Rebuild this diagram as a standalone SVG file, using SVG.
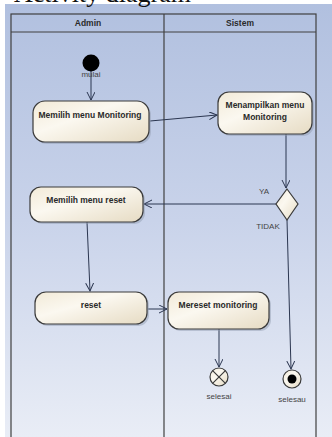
<svg xmlns="http://www.w3.org/2000/svg" width="332" height="437" viewBox="0 0 332 437">
<defs>
<linearGradient id="bg" x1="0" y1="0" x2="0" y2="1">
<stop offset="0" stop-color="#b1c0df"/>
<stop offset="0.5" stop-color="#c9d3ea"/>
<stop offset="1" stop-color="#e9edf6"/>
</linearGradient>
<linearGradient id="nf" x1="0" y1="0" x2="1" y2="1">
<stop offset="0" stop-color="#f2ead8"/>
<stop offset="0.4" stop-color="#fbf8f0"/>
<stop offset="1" stop-color="#e6dbc3"/>
</linearGradient>
<marker id="arr" markerWidth="10" markerHeight="10" refX="8" refY="4" orient="auto" markerUnits="userSpaceOnUse">
<path d="M0,0 L8,4 L0,8" fill="none" stroke="#2b3650" stroke-width="1"/>
</marker>
</defs>
<style>
.node rect{fill:url(#nf);stroke:#3a3a3a;stroke-width:1.2}
.node rect.shadow{fill:#8f98ad;stroke:none;opacity:0.45}
.lbl{font-family:"Liberation Sans",Arial,sans-serif;font-size:8.5px;font-weight:bold;fill:#2a2a2a;text-anchor:middle}
.small{font-family:"Liberation Sans",Arial,sans-serif;font-size:8px;fill:#444;text-anchor:middle}
.pool{fill:none;stroke:#404040;stroke-width:1.2}
.conn path,.conn line{fill:none;stroke:#2b3650;stroke-width:1;marker-end:url(#arr)}
</style>
<rect x="0" y="0" width="332" height="437" fill="#ffffff"/>
<rect x="5" y="4" width="327" height="433" fill="url(#bg)"/>
<text x="14" y="1.5" font-family="Liberation Serif,serif" font-size="26" fill="#111">Activity diagram</text>
<g id="pool">
<rect x="11" y="14" width="305" height="430" class="pool"/>
<line x1="11" y1="32" x2="316" y2="32" class="pool"/>
<line x1="164" y1="14" x2="164" y2="437" class="pool"/>
<text x="88" y="26" class="lbl">Admin</text>
<text x="240" y="26" class="lbl">Sistem</text>
</g>
<g id="connectors" class="conn">
<line x1="91" y1="71" x2="91" y2="100"/>
<path d="M150,121 L217,115"/>
<line x1="286" y1="134" x2="286" y2="188"/>
<line x1="276" y1="204" x2="144" y2="204"/>
<line x1="87" y1="222" x2="90" y2="291"/>
<line x1="148" y1="309" x2="167" y2="309"/>
<line x1="219" y1="329" x2="219" y2="367"/>
<line x1="287" y1="220" x2="291" y2="369"/>
</g>
<g id="start">
<circle cx="91" cy="63" r="8.5" fill="#000"/>
<text x="91" y="77" class="small">mulai</text>
</g>
<g id="n1" class="node">
<rect x="35" y="103" width="116" height="41" rx="12" class="shadow"/>
<rect x="33" y="101" width="116" height="41" rx="12"/>
<text x="90" y="118" class="lbl">Memilih menu Monitoring</text>
</g>
<g id="n2" class="node">
<rect x="220" y="94" width="94" height="42" rx="11" class="shadow"/>
<rect x="218" y="92" width="94" height="42" rx="11"/>
<text x="265" y="108" class="lbl">Menampilkan menu</text>
<text x="265" y="120" class="lbl">Monitoring</text>
</g>
<g id="decision">
<polygon points="287,189 298,204 287,220 276,204" fill="url(#nf)" stroke="#3a3a3a" stroke-width="1.2"/>
<text x="264" y="194" class="small">YA</text>
<text x="268" y="229" class="small">TIDAK</text>
</g>
<g id="n3" class="node">
<rect x="32" y="189" width="113" height="35" rx="11" class="shadow"/>
<rect x="30" y="187" width="113" height="35" rx="11"/>
<text x="86" y="203" class="lbl">Memilih menu reset</text>
</g>
<g id="n4" class="node">
<rect x="37" y="294" width="112" height="32" rx="11" class="shadow"/>
<rect x="35" y="292" width="112" height="32" rx="11"/>
<text x="91" y="308" class="lbl">reset</text>
</g>
<g id="n5" class="node">
<rect x="170" y="294" width="101" height="37" rx="11" class="shadow"/>
<rect x="168" y="292" width="101" height="37" rx="11"/>
<text x="218" y="308" class="lbl">Mereset monitoring</text>
</g>
<g id="flowfinal">
<circle cx="219" cy="377" r="9" fill="url(#nf)" stroke="#3a3a3a" stroke-width="1.2"/>
<path d="M212.6,370.6 L225.4,383.4 M225.4,370.6 L212.6,383.4" stroke="#3a3a3a" stroke-width="1.2"/>
<text x="219" y="399" class="small">selesai</text>
</g>
<g id="final">
<circle cx="292" cy="379" r="9" fill="url(#nf)" stroke="#3a3a3a" stroke-width="1.2"/>
<circle cx="292" cy="379" r="4.5" fill="#000"/>
<text x="292" y="402" class="small">selesau</text>
</g>
</svg>
